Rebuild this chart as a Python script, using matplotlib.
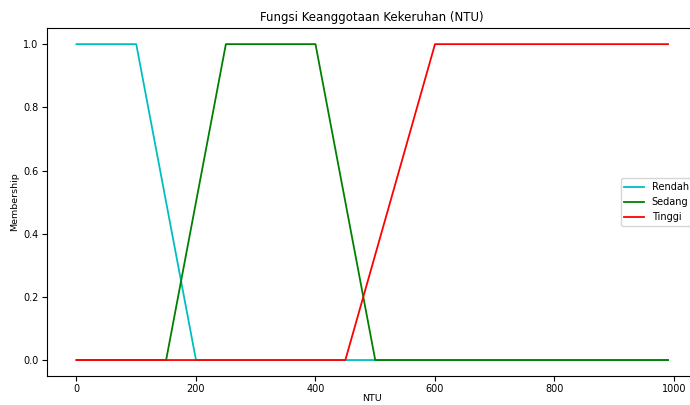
import numpy as np
import matplotlib
matplotlib.use("Agg")
import matplotlib.pyplot as plt

# data: trapezoid membership breakpoints (NTU)
x = np.arange(0, 1000, 10)
rendah_pts = [0, 0, 100, 200]
sedang_pts = [150, 250, 400, 500]
tinggi_pts = [450, 600, 1000, 1000]
labels = ["Rendah", "Sedang", "Tinggi"]
colors = ["c", "g", "r"]


def trapmf(x, p):
    a, b, c, d = p
    y = np.zeros_like(x, dtype=float)
    up = (x > a) & (x < b)
    y[up] = (x[up] - a) / (b - a)
    y[(x >= b) & (x <= c)] = 1.0
    down = (x > c) & (x < d)
    y[down] = (d - x[down]) / (d - c)
    return y


fig = plt.figure(figsize=(6.9, 4.05), dpi=100)
ax = fig.add_axes([0.068, 0.072, 0.943, 0.858])

for pts, lab, col in zip([rendah_pts, sedang_pts, tinggi_pts], labels, colors):
    ax.plot(x, trapmf(x, pts), color=col, label=lab, linewidth=1.3)

ax.set_title("Fungsi Keanggotaan Kekeruhan (NTU)", fontsize=8.5, pad=5)
ax.set_xlabel("NTU", fontsize=6.8, labelpad=0)
ax.set_ylabel("Membership", fontsize=6.8, labelpad=3)
ax.tick_params(labelsize=7, pad=2.5)
ax.legend(loc="center right", fontsize=7)

fig.savefig("out.png", dpi=100)
